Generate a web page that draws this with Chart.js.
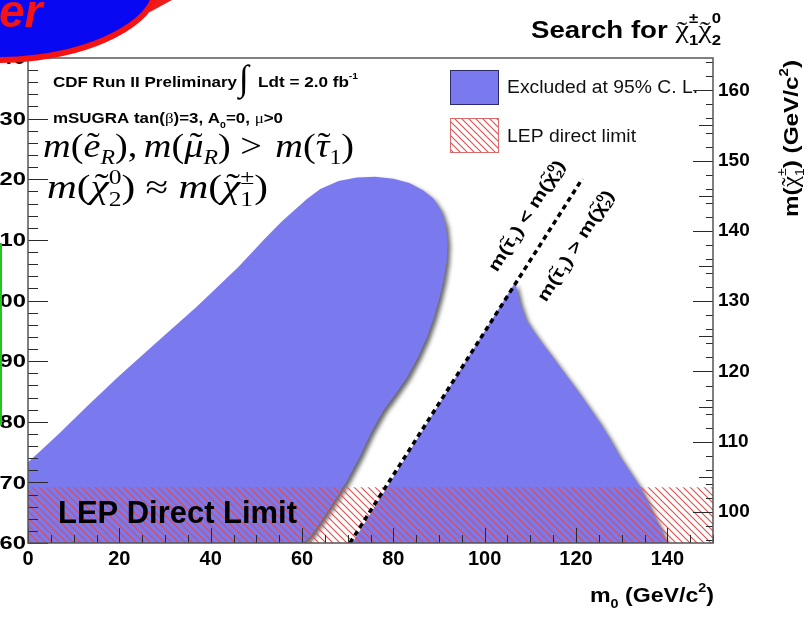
<!DOCTYPE html>
<html>
<head>
<meta charset="utf-8">
<script src="https://cdn.jsdelivr.net/npm/chart.js@4/dist/chart.umd.min.js"></script>
<style>
  html, body { margin: 0; padding: 0; background: #fff; }
  canvas { display: block; }
</style>
</head>
<body>
<canvas id="c" width="808" height="620"></canvas>
<script>
// ---- axis ticks ----
const m0Ticks = [0, 20, 40, 60, 80, 100, 120, 140];              // m0 (GeV/c^2)
const mHalfTicks = [160, 170, 180, 190, 200, 210, 220, 230, 240];  // m1/2 (GeV/c^2)
const mCharginoTicks = [100, 110, 120, 130, 140, 150, 160];        // m(chi1+-) (GeV/c^2)

// ---- excluded at 95% C.L., low-m0 region (boundary, m0 vs m1/2) ----
const lobeA_m0 = [0, 0, 3, 7, 13, 20, 28, 37, 46, 52, 55.5, 58.5, 61, 64, 68, 72, 76, 80, 83.5, 86.5,
  88.8, 90.5, 91.5, 91.9, 91.7, 91.0, 90.1, 88.8, 87.3, 85.3, 83.0, 80.4, 77.8, 75.2, 72.7, 69.8,
  66.8, 64.2, 61.8, 60.2];
const lobeA_mHalf = [160, 173.3, 175.4, 178.2, 182.6, 187.6, 193.0, 199.0, 205.5, 210.3, 213.0, 215.0,
  216.7, 218.4, 219.7, 220.3, 220.4, 220.1, 219.4, 218.2, 216.8, 214.8, 212.4, 209.5, 206.5, 203.3,
  200.4, 197.0, 193.8, 190.5, 187.3, 184.5, 181.8, 178.3, 174.3, 170.2, 166.6, 163.6, 161.0, 160];

// ---- excluded at 95% C.L., region with m(stau1) > m(chi2^0) ----
const lobeB_m0 = [71, 106.7, 107.8, 109, 110.6, 112.8, 115.0, 117.6, 120.3, 122.8, 125.3, 127.6,
  129.7, 132, 134.1, 135.6, 136.9, 138.5, 140.0];
const lobeB_mHalf = [160, 203.0, 199.5, 197, 195.1, 192.8, 190.6, 187.9, 185.2, 182.5, 179.8, 177.0,
  174.2, 171.6, 169.2, 167.0, 164.9, 162.5, 160];

// ---- m(stau1) = m(chi2^0) boundary ----
const stauLine_m0 = [70.5, 121.4];
const stauLine_mHalf = [160, 220.1];

// ---- LEP direct chargino limit, expressed in m1/2 ----
const lepBand_m0 = [0, 150, 150, 0];
const lepBand_mHalf = [160, 160, 169.2, 169.2];

const pts = (xs, ys) => xs.map((x, i) => ({ x, y: ys[i] }));

const SANS = '"Liberation Sans", Arial, Helvetica, sans-serif';
const SERIF = '"Liberation Serif", "Times New Roman", serif';
const BLUE = 'rgb(122,122,238)';

const ctx0 = document.getElementById('c').getContext('2d');

function hatchPattern() {
  const c = document.createElement('canvas');
  c.width = c.height = 7;
  const g = c.getContext('2d');
  g.strokeStyle = 'rgba(228,72,72,0.95)';
  g.lineWidth = 1.2;
  g.beginPath();
  g.moveTo(-1, -1); g.lineTo(8, 8);
  g.moveTo(-1, 6); g.lineTo(1, 8);
  g.moveTo(6, -1); g.lineTo(8, 1);
  g.stroke();
  return ctx0.createPattern(c, 'repeat');
}
const HATCH = hatchPattern();

// rich text: runs of text with accents, super- and subscripts
function drawRich(ctx, segs, o) {
  const run = (draw) => {
    let cx = 0;
    for (const s of segs) {
      const size = o.size * (s.k || 1);
      const fam = s.fam || o.fam;
      const st = s.st !== undefined ? s.st : (o.st || '');
      ctx.font = `${st} ${size}px ${fam}`;
      const w = s.t ? ctx.measureText(s.t).width : 0;
      if (draw && s.t) ctx.fillText(s.t, cx, (s.dy || 0) * o.size);
      if (s.acc && draw) {
        ctx.font = `${o.accSt || ''} ${size * (s.ak || 1)}px ${s.afam || o.afam || SERIF}`;
        const aw = ctx.measureText(s.acc).width;
        ctx.fillText(s.acc, cx + w / 2 - aw / 2 + (s.ax || 0) * size, (s.ady !== undefined ? s.ady : (o.ady || 0)) * size);
      }
      let adv = w;
      if (s.sup || s.sub) {
        const ss = size * (s.sk || 0.62);
        ctx.font = `${s.sst !== undefined ? s.sst : st} ${ss}px ${s.sfam || fam}`;
        let w2 = 0;
        const ox = cx + w + (s.sx || 0) * size;
        if (s.sup) {
          if (draw) ctx.fillText(s.sup, ox, (s.supDy !== undefined ? s.supDy : -0.42) * size);
          w2 = ctx.measureText(s.sup).width;
        }
        if (s.sub) {
          if (draw) ctx.fillText(s.sub, ox + (s.bx || 0) * size, (s.subDy !== undefined ? s.subDy : 0.24) * size);
          w2 = Math.max(w2, ctx.measureText(s.sub).width + (s.bx || 0) * size);
        }
        adv += w2 + (s.sx || 0) * size;
      }
      cx += adv + (s.gap || 0) * size;
    }
    return cx;
  };
  ctx.save();
  const nat = run(false);
  const sc = o.width ? o.width / nat : 1;
  const tot = nat * sc;
  ctx.translate(o.x, o.y);
  if (o.rot) ctx.rotate(o.rot);
  const x0 = o.align === 'center' ? -tot / 2 : o.align === 'right' ? -tot : 0;
  ctx.translate(x0, o.by || 0);
  ctx.scale(sc, 1);
  ctx.fillStyle = o.color || '#000';
  ctx.textBaseline = 'alphabetic';
  ctx.textAlign = 'left';
  run(true);
  ctx.restore();
}

// filled contours (optionally with a drop shadow), drawn from the points the scales placed
const contourFill = {
  id: 'contourFill',
  beforeDatasetDraw(chart, args) {
    const ds = chart.data.datasets[args.index];
    if (!ds.areaFill) return;
    const { ctx, chartArea: a } = chart;
    const p = args.meta.data;
    ctx.save();
    ctx.beginPath();
    ctx.rect(a.left, a.top, a.right - a.left, a.bottom - a.top);
    ctx.clip();
    if (ds.areaShadow) {
      ctx.shadowColor = 'rgba(0,0,0,0.6)';
      ctx.shadowBlur = 4;
      ctx.shadowOffsetX = 3;
      ctx.shadowOffsetY = 3;
    }
    ctx.fillStyle = ds.areaFill;
    ctx.beginPath();
    p.forEach((e, i) => (i ? ctx.lineTo(e.x, e.y) : ctx.moveTo(e.x, e.y)));
    ctx.closePath();
    ctx.fill();
    ctx.restore();
  }
};

// inward-pointing tick marks, frame, and the wide m1/2 tick labels
const frameTicks = {
  id: 'frameTicks',
  afterDatasetsDraw(chart) {
    const { ctx, chartArea: a, scales } = chart;
    const { x, y, y2 } = scales;
    ctx.save();
    ctx.strokeStyle = '#2a2a2a';
    ctx.lineWidth = 1;
    ctx.beginPath();
    for (let v = 0; v <= 150; v += 5) {
      const px = Math.round(x.getPixelForValue(v)) + 0.5;
      const L = v % 20 === 0 ? 15 : 8;
      ctx.moveTo(px, a.bottom); ctx.lineTo(px, a.bottom - L);
    }
    for (let v = 160; v <= 240; v += 2) {
      const py = Math.round(y.getPixelForValue(v)) + 0.5;
      const L = v % 10 === 0 ? 20 : 10;
      ctx.moveTo(a.left, py); ctx.lineTo(a.left + L, py);
    }
    for (let v = 96; v <= 164; v += 1) {
      if (v % 5 !== 0 && v % 2 !== 0) continue;
      const py = Math.round(y2.getPixelForValue(v)) + 0.5;
      const L = v % 10 === 0 ? 20 : (v % 5 === 0 ? 14 : 7);
      ctx.moveTo(a.right, py); ctx.lineTo(a.right - L, py);
    }
    ctx.stroke();
    ctx.strokeStyle = '#555';
    ctx.lineWidth = 1.5;
    ctx.strokeRect(a.left, a.top, a.right - a.left, a.bottom - a.top);
    ctx.restore();
  },
  afterDraw(chart) {
    const { ctx, scales: { y } } = chart;
    ctx.save();
    ctx.font = `bold 19px ${SANS}`;
    ctx.fillStyle = '#000';
    ctx.textAlign = 'right';
    ctx.textBaseline = 'middle';
    for (const v of mHalfTicks) {
      ctx.save();
      ctx.translate(26, y.getPixelForValue(v) + 1);
      ctx.scale(1.25, 1);
      ctx.fillText(String(v), 0, 0);
      ctx.restore();
    }
    ctx.restore();
  }
};

const IT = 'italic', RM = '';

// labels, legend and annotations
const annotations = {
  id: 'annotations',
  afterDraw(chart) {
    const ctx = chart.ctx;

    // header
    drawRich(ctx, [
      { t: 'Search for ' },
      { t: 'χ', fam: SERIF, st: '', k: 1.1, acc: '˜', ady: 0.05, sup: '±', sub: '1', sfam: SANS, sst: 'bold', sk: 0.55, supDy: -0.6, subDy: 0.28 },
      { t: 'χ', fam: SERIF, st: '', k: 1.1, acc: '˜', ady: 0.05, sup: '0', sub: '2', sfam: SANS, sst: 'bold', sk: 0.55, supDy: -0.6, subDy: 0.28 }
    ], { x: 531, y: 38, size: 23, fam: SANS, st: 'bold', width: 190 });

    // experiment and model
    drawRich(ctx, [{ t: 'CDF Run II Preliminary' }], { x: 53, y: 87, size: 15, fam: SANS, st: 'bold', width: 184 });
    ctx.save();
    ctx.font = `36px ${SERIF}`;
    ctx.fillStyle = '#000';
    ctx.fillText('∫', 239, 90);
    ctx.restore();
    drawRich(ctx, [{ t: 'Ldt = 2.0 fb', sup: '-1', supDy: -0.55, sk: 0.6 }], { x: 258, y: 87, size: 15, fam: SANS, st: 'bold', width: 100 });
    drawRich(ctx, [
      { t: 'mSUGRA tan(' }, { t: 'β', st: '', fam: SERIF }, { t: ')=3, A', sub: '0', subDy: 0.3 },
      { t: '=0, ' }, { t: 'μ', st: '', fam: SERIF }, { t: '>0' }
    ], { x: 53, y: 123, size: 15, fam: SANS, st: 'bold', width: 230 });

    drawRich(ctx, [
      { t: 'm', st: IT }, { t: '(', st: RM }, { t: 'e', st: IT, acc: '˜', ax: 0.04, sub: 'R', sst: IT, subDy: 0.22 },
      { t: ')', st: RM }, { t: ',', st: RM, gap: 0.17 },
      { t: 'm', st: IT }, { t: '(', st: RM }, { t: 'μ', st: IT, acc: '˜', ax: 0.06, sub: 'R', sst: IT, subDy: 0.22 },
      { t: ')', st: RM }, { t: ' > ', st: RM, gap: 0.1 },
      { t: 'm', st: IT }, { t: '(', st: RM }, { t: 'τ', st: IT, acc: '˜', ax: 0.04, sub: '1', sst: RM, subDy: 0.22 },
      { t: ')', st: RM }
    ], { x: 43, y: 157, size: 33, fam: SERIF, width: 311, ady: -0.02 });
    drawRich(ctx, [
      { t: 'm', st: IT }, { t: '(', st: RM }, { t: 'χ', st: IT, acc: '˜', ax: 0.05, sup: '0', sub: '2', sst: RM, supDy: -0.42, subDy: 0.24 },
      { t: ')', st: RM }, { t: ' ≈ ', st: RM },
      { t: 'm', st: IT }, { t: '(', st: RM }, { t: 'χ', st: IT, acc: '˜', ax: 0.05, sup: '±', sub: '1', sst: RM, supDy: -0.42, subDy: 0.24 },
      { t: ')', st: RM }
    ], { x: 47, y: 198, size: 33, fam: SERIF, width: 221, ady: -0.02 });

    // legend
    ctx.save();
    ctx.fillStyle = BLUE;
    ctx.fillRect(450, 70, 48, 34);
    ctx.strokeStyle = '#2c2c6a';
    ctx.lineWidth = 1;
    ctx.strokeRect(450.5, 70.5, 48, 34);
    ctx.fillStyle = '#fff';
    ctx.fillRect(450, 118, 48, 34);
    ctx.fillStyle = HATCH;
    ctx.fillRect(450, 118, 48, 34);
    ctx.strokeStyle = '#d86a6a';
    ctx.strokeRect(450.5, 118.5, 48, 34);
    ctx.restore();
    drawRich(ctx, [{ t: 'Excluded at 95% C. L.' }], { x: 507, y: 93, size: 18, fam: SANS, width: 191, color: '#111' });
    drawRich(ctx, [{ t: 'LEP direct limit' }], { x: 507, y: 142, size: 18, fam: SANS, width: 129, color: '#111' });

    // LEP label inside the band
    drawRich(ctx, [{ t: 'LEP Direct Limit' }], { x: 58, y: 523, size: 32, fam: SANS, st: 'bold', width: 239, color: '#000' });

    // labels along the m(stau1) = m(chi2^0) line
    const rot = -Math.atan2(367, 232);
    drawRich(ctx, [
      { t: 'm(' }, { t: 'τ', fam: SANS, acc: '˜', afam: SANS, ady: -0.15, sub: '1', sk: 0.6 }, { t: ') < m(' },
      { t: 'χ', fam: SANS, acc: '˜', afam: SANS, ady: -0.15, sup: '0', sub: '2', sk: 0.6 }, { t: ')' }
    ], { x: 527, y: 216, rot, align: 'center', by: 5, size: 17, fam: SANS, st: 'bold', width: 128 });
    drawRich(ctx, [
      { t: 'm(' }, { t: 'τ', fam: SANS, acc: '˜', afam: SANS, ady: -0.15, sub: '1', sk: 0.6 }, { t: ') > m(' },
      { t: 'χ', fam: SANS, acc: '˜', afam: SANS, ady: -0.15, sup: '0', sub: '2', sk: 0.6 }, { t: ')' }
    ], { x: 576, y: 246, rot, align: 'center', by: 5, size: 17, fam: SANS, st: 'bold', width: 128 });

    // axis titles
    drawRich(ctx, [{ t: 'm', sub: '0', subDy: 0.28 }, { t: ' (GeV/c', sup: '2', supDy: -0.5 }, { t: ')' }],
      { x: 590, y: 602, size: 20, fam: SANS, st: 'bold', width: 124 });
    drawRich(ctx, [
      { t: 'm(' }, { t: 'χ', st: '', fam: SERIF, k: 1.05, acc: '˜', ady: 0.02, sup: '±', sub: '1', sfam: SANS, sst: '', sk: 0.55, supDy: -0.55, subDy: 0.25 },
      { t: ') (GeV/c', sup: '2', supDy: -0.5 }, { t: ')' }
    ], { x: 798, y: 217, rot: -Math.PI / 2, size: 21, fam: SANS, st: 'bold', width: 157 });

    // slide overlay in the upper-left corner
    ctx.save();
    ctx.fillStyle = '#ee1c1c';
    ctx.beginPath();
    ctx.moveTo(134, 0); ctx.lineTo(172, 0); ctx.lineTo(150, 12); ctx.closePath();
    ctx.fill();
    ctx.beginPath();
    ctx.ellipse(30, 3, 126, 55, -0.13, 0, 2 * Math.PI);
    ctx.fillStyle = '#0808f2';
    ctx.fill();
    ctx.lineWidth = 6;
    ctx.strokeStyle = '#f41414';
    ctx.stroke();
    ctx.font = `italic bold 46px ${SANS}`;
    ctx.fillStyle = '#f41414';
    ctx.fillText('er', -1, 27);
    ctx.fillStyle = '#1ec81e';
    ctx.fillRect(0, 243, 2, 182);
    ctx.restore();
  }
};

const tickFont = { family: SANS, size: 19, weight: 'bold' };

new Chart(ctx0, {
  type: 'scatter',
  data: {
    datasets: [
      {
        label: 'm(stau1) = m(chi2^0)',
        data: pts(stauLine_m0, stauLine_mHalf),
        showLine: true, borderColor: '#000', borderWidth: 3.5, borderDash: [5, 4],
        pointRadius: 0, order: 0
      },
      {
        label: 'LEP direct limit',
        data: pts(lepBand_m0, lepBand_mHalf),
        showLine: false, pointRadius: 0, areaFill: HATCH, order: 1
      },
      {
        label: 'Excluded at 95% C. L.',
        data: pts(lobeB_m0, lobeB_mHalf),
        showLine: false, pointRadius: 0, areaFill: BLUE, areaShadow: true, order: 2
      },
      {
        label: 'Excluded at 95% C. L. (low m0)',
        data: pts(lobeA_m0, lobeA_mHalf),
        showLine: false, pointRadius: 0, areaFill: BLUE, areaShadow: true, order: 3
      }
    ]
  },
  options: {
    responsive: false,
    animation: false,
    layout: { padding: { top: 58, left: 0, right: 0, bottom: 0 } },
    plugins: { legend: { display: false }, tooltip: { enabled: false } },
    scales: {
      x: {
        type: 'linear', position: 'bottom', min: 0, max: 150,
        grid: { display: false, drawTicks: false }, border: { display: false },
        ticks: { font: { ...tickFont, size: 20 }, color: '#000', padding: 4, maxRotation: 0, autoSkip: false },
        afterBuildTicks: s => { s.ticks = m0Ticks.map(v => ({ value: v })); },
        afterFit: s => { s.height = 77; }
      },
      y: {
        type: 'linear', position: 'left', min: 160, max: 240,
        grid: { display: false, drawTicks: false }, border: { display: false },
        ticks: { display: false },
        afterBuildTicks: s => { s.ticks = mHalfTicks.map(v => ({ value: v })); },
        afterFit: s => { s.width = 28; }
      },
      y2: {
        type: 'linear', position: 'right', min: 95.6, max: 164.6,
        grid: { display: false, drawTicks: false }, border: { display: false },
        ticks: { font: tickFont, color: '#000', padding: 5, autoSkip: false },
        afterBuildTicks: s => { s.ticks = mCharginoTicks.map(v => ({ value: v })); },
        afterFit: s => { s.width = 95; }
      }
    }
  },
  plugins: [contourFill, frameTicks, annotations]
});
</script>
</body>
</html>
